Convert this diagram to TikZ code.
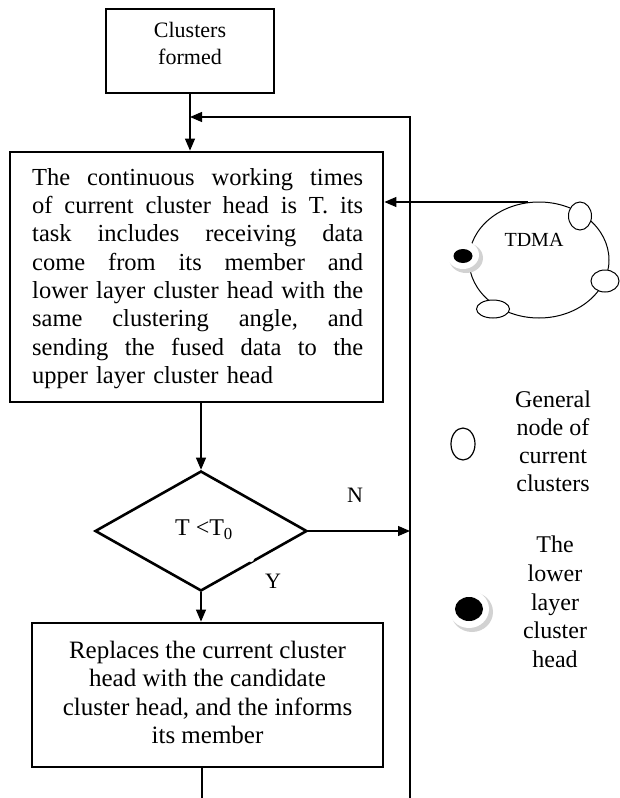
\documentclass[tikz,border=0pt]{standalone}
\usepackage{fontspec}
\setmainfont{Liberation Serif}
\usetikzlibrary{arrows.meta,shapes.geometric,calc}
\newcommand\fsz[2]{\fontsize{#1}{#2}\selectfont}
\newcommand\jline[1]{\leavevmode\hbox to 331pt{#1}}
\tikzset{
  box/.style={draw, rectangle, line width=2.8pt, inner sep=0pt},
  conn/.style={line width=1.2pt},
  arr/.style={conn, -{Triangle[length=12pt,width=10pt]}},
  txt/.style={inner sep=0pt, align=center},
  small/.style={draw, ellipse, fill=white, line width=1pt, inner sep=0pt},
}
\begin{document}
\begin{tikzpicture}[x=1pt,y=-1pt]
\useasboundingbox (0,0) rectangle (619,798);
% boxes
\node[box, minimum width=168pt, minimum height=84pt] (cf) at (190,51) {};
\node[txt, font=\fsz{22}{27}, anchor=north] (cftext) at (190,22) {Clusters\\formed};
\node[box, minimum width=373pt, minimum height=250pt] (main) at (196.5,277) {};
\node[inner sep=0pt, text width=331pt, align=left, anchor=north west, font=\fsz{24.5}{28.3}] (maintext) at (32,168) {%
\jline{The\hfill continuous\hfill working\hfill times}\\
\jline{of\hfill current\hfill cluster\hfill head\hfill is\hfill T.\hfill its}\\
\jline{task\hfill includes\hfill receiving\hfill data}\\
\jline{come\hfill from\hfill its\hfill member\hfill and}\\
\jline{lower\hfill layer\hfill cluster\hfill head\hfill with\hfill the}\\
\jline{same\hfill clustering\hfill angle,\hfill and}\\
\jline{sending\hfill the\hfill fused\hfill data\hfill to\hfill the}\\
upper layer cluster head};
\node[draw, diamond, aspect=1.7667, minimum width=212pt, minimum height=120pt, line width=2.6pt, inner sep=0pt] (dia) at (201,531) {};
\node[txt, font=\fsz{24}{28}] (diatext) at (204,530) {T <T\textsubscript{0}};
\fill[white] (251,559) circle (3);
\node[txt, font=\fsz{22}{26}] (nlab) at (355,495) {N};
\node[txt, font=\fsz{22}{26}] (ylab) at (273,581) {Y};
\node[box, minimum width=351pt, minimum height=144pt] (bot) at (207.5,695) {};
\node[txt, font=\fsz{25}{28.3}, anchor=north] (bottext) at (207.5,641) {Replaces the current cluster\\head with the candidate\\cluster head, and the informs\\its member};
% connectors
\coordinate (rt) at (410,117);
\coordinate (rb) at (410,798);
\coordinate (bb) at (202,798);
\coordinate (tdtop) at (528,202);
\draw[arr] (cf.south) -- (cf.south |- main.north);
\draw[arr] (rb) -- (rt) -- (cf.south |- rt);
\draw[arr] (dia.north |- main.south) -- (dia.north);
\draw[arr] (dia.east) -- (dia.east -| rt);
\draw[arr] (dia.south) -- (dia.south |- bot.north);
\draw[conn] (bb |- bot.south) -- (bb);
% TDMA cluster
\node[draw, ellipse, line width=1pt, minimum width=140pt, minimum height=116pt, inner sep=0pt] (ring) at (539,260) {};
\draw[arr] (tdtop) -- (tdtop -| main.east);
\node[txt, font=\fsz{20}{24}] (tdma) at (534,240) {TDMA};
\node[small, minimum width=23pt, minimum height=28pt] (e1) at (580,216) {};
\node[small, minimum width=28pt, minimum height=22pt] (e2) at (605,281) {};
\node[small, minimum width=33pt, minimum height=18pt] (e3) at (493,309) {};
\fill[gray!35] (466,258) ellipse [x radius=17, y radius=15];
\fill[white] (463,255) ellipse [x radius=16, y radius=14];
\node[ellipse, fill=black, minimum width=19pt, minimum height=14pt, inner sep=0pt] (dot1) at (463,256) {};
% legend
\node[draw, ellipse, line width=1.2pt, minimum width=24pt, minimum height=32pt, inner sep=0pt] (lg1) at (463,444) {};
\node[txt, font=\fsz{24}{28}, anchor=north] (lg1text) at (553,391) {General\\node of\\current\\clusters};
\fill[gray!35] (472,612) ellipse [x radius=21, y radius=20];
\fill[white] (469,609) ellipse [x radius=20, y radius=19];
\node[ellipse, fill=black, minimum width=28pt, minimum height=24pt, inner sep=0pt] (dot2) at (469,609) {};
\node[txt, font=\fsz{24}{28.7}, anchor=north] (lg2text) at (555,536) {The\\lower\\layer\\cluster\\head};
\end{tikzpicture}
\end{document}
